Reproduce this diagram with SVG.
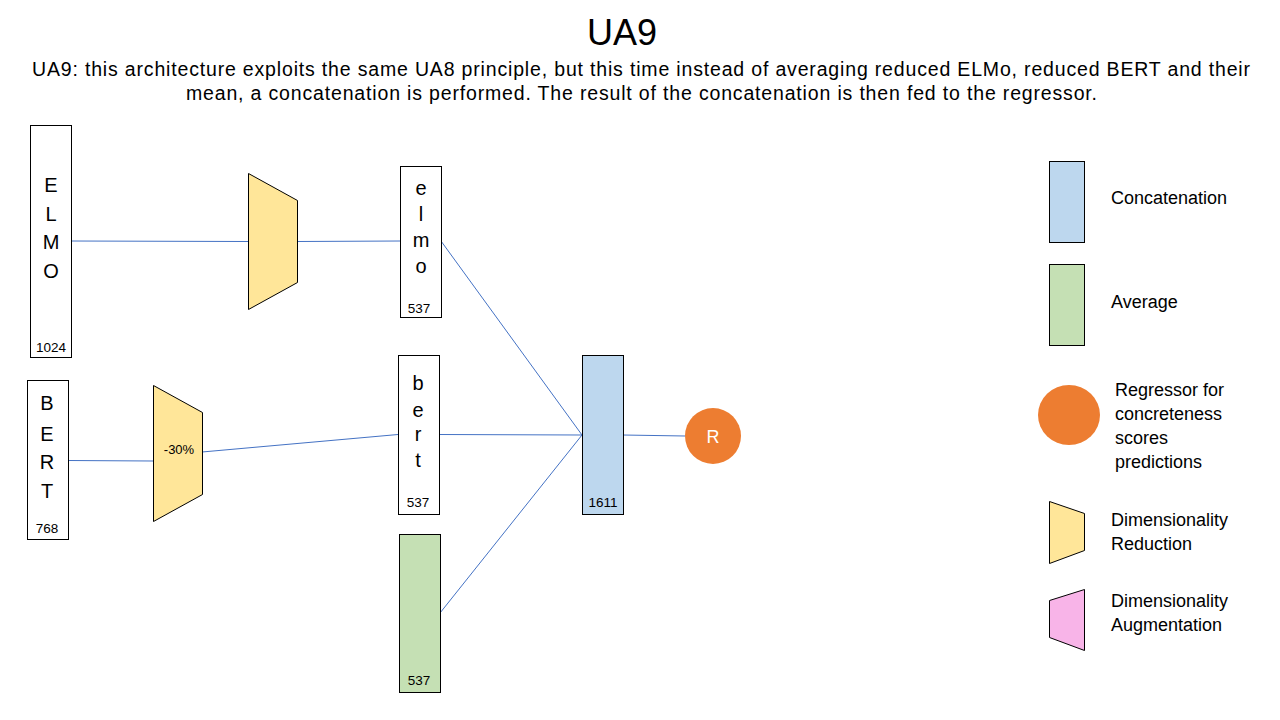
<svg xmlns="http://www.w3.org/2000/svg" width="1280" height="720" viewBox="0 0 1280 720">
<style>
text{font-family:"Liberation Sans",Arial,sans-serif;fill:#000}
.box{fill:#fff;stroke:#000;stroke-width:1}
.blue{fill:#BDD7EE;stroke:#000;stroke-width:1}
.green{fill:#C5E0B4;stroke:#000;stroke-width:1}
.yel{fill:#FFE699;stroke:#000;stroke-width:1}
.pink{fill:#F8B4E8;stroke:#000;stroke-width:1}
.big{font-size:20px;text-anchor:middle}
.small{font-size:13.5px;text-anchor:middle}
.leg{font-size:18px}
.conn line{stroke:#4472C4;stroke-width:1}
</style>
<rect width="1280" height="720" fill="#fff"/>
<text x="622" y="45" font-size="36" text-anchor="middle">UA9</text>
<text x="32" y="76" font-size="19.5" textLength="1218" lengthAdjust="spacing">UA9: this architecture exploits the same UA8 principle, but this time instead of averaging reduced ELMo, reduced BERT and their</text>
<text x="186" y="100" font-size="19.5" textLength="911" lengthAdjust="spacing">mean, a concatenation is performed. The result of the concatenation is then fed to the regressor.</text>
<g class="conn" id="connectors">
<line x1="71" y1="241" x2="248" y2="241.5"/>
<line x1="297" y1="241.5" x2="400" y2="241"/>
<line x1="68" y1="460.5" x2="153" y2="461"/>
<line x1="202" y1="452" x2="398" y2="434.5"/>
<line x1="441" y1="241" x2="582" y2="435"/>
<line x1="439" y1="434.5" x2="582" y2="435"/>
<line x1="440" y1="613" x2="582" y2="435"/>
<line x1="623" y1="435" x2="685" y2="436"/>
</g>
<g id="elmo-input">
<rect class="box" x="30.5" y="125.5" width="41" height="232"/>
<text class="big" x="51" y="192">E</text>
<text class="big" x="51" y="221">L</text>
<text class="big" x="51" y="249">M</text>
<text class="big" x="51" y="278">O</text>
<text class="small" x="51" y="352">1024</text>
</g>
<g id="elmo-reducer">
<polygon class="yel" points="248.5,173.5 297.5,200.5 297.5,282.5 248.5,309.5"/>
</g>
<g id="elmo-reduced">
<rect class="box" x="400.5" y="166.5" width="41" height="151"/>
<text class="big" x="421" y="195">e</text>
<text class="big" x="421" y="221">l</text>
<text class="big" x="421" y="247">m</text>
<text class="big" x="421" y="273">o</text>
<text class="small" x="419" y="313">537</text>
</g>
<g id="bert-input">
<rect class="box" x="27.5" y="380.5" width="41" height="159"/>
<text class="big" x="47" y="410">B</text>
<text class="big" x="47" y="441">E</text>
<text class="big" x="47" y="469">R</text>
<text class="big" x="47" y="498">T</text>
<text class="small" x="47" y="533">768</text>
</g>
<g id="bert-reducer">
<polygon class="yel" points="153.5,385.5 202.5,412.5 202.5,494.5 153.5,521.5"/>
<text x="179" y="454" font-size="13" text-anchor="middle">-30%</text>
</g>
<g id="bert-reduced">
<rect class="box" x="398.5" y="355.5" width="41" height="159"/>
<text class="big" x="418" y="390">b</text>
<text class="big" x="418" y="417">e</text>
<text class="big" x="418" y="441">r</text>
<text class="big" x="418" y="467">t</text>
<text class="small" x="418" y="507">537</text>
</g>
<g id="average">
<rect class="green" x="399.5" y="534.5" width="41" height="158"/>
<text class="small" x="419" y="685">537</text>
</g>
<g id="concatenation">
<rect class="blue" x="582.5" y="355.5" width="41" height="159"/>
<text class="small" x="603" y="507">1611</text>
</g>
<g id="regressor">
<circle cx="713" cy="436" r="28" fill="#ED7D31"/>
<text x="713" y="443" font-size="18" text-anchor="middle" style="fill:#fff">R</text>
</g>
<g id="legend-concatenation">
<rect class="blue" x="1049.5" y="161.5" width="35" height="81"/>
<text class="leg" x="1111" y="204">Concatenation</text>
</g>
<g id="legend-average">
<rect class="green" x="1049.5" y="264.5" width="35" height="81"/>
<text class="leg" x="1111" y="308">Average</text>
</g>
<g id="legend-regressor">
<ellipse cx="1069" cy="415" rx="31" ry="30" fill="#ED7D31"/>
<text class="leg" x="1115" y="396">Regressor for</text>
<text class="leg" x="1115" y="420">concreteness</text>
<text class="leg" x="1115" y="444">scores</text>
<text class="leg" x="1115" y="468">predictions</text>
</g>
<g id="legend-reduction">
<polygon class="yel" points="1049.5,501.5 1084.5,513.5 1084.5,550.5 1049.5,563.5"/>
<text class="leg" x="1111" y="526">Dimensionality</text>
<text class="leg" x="1111" y="550">Reduction</text>
</g>
<g id="legend-augmentation">
<polygon class="pink" points="1049.5,600.5 1084.5,589.5 1084.5,650.5 1049.5,637.5"/>
<text class="leg" x="1111" y="607">Dimensionality</text>
<text class="leg" x="1111" y="631">Augmentation</text>
</g>
</svg>
